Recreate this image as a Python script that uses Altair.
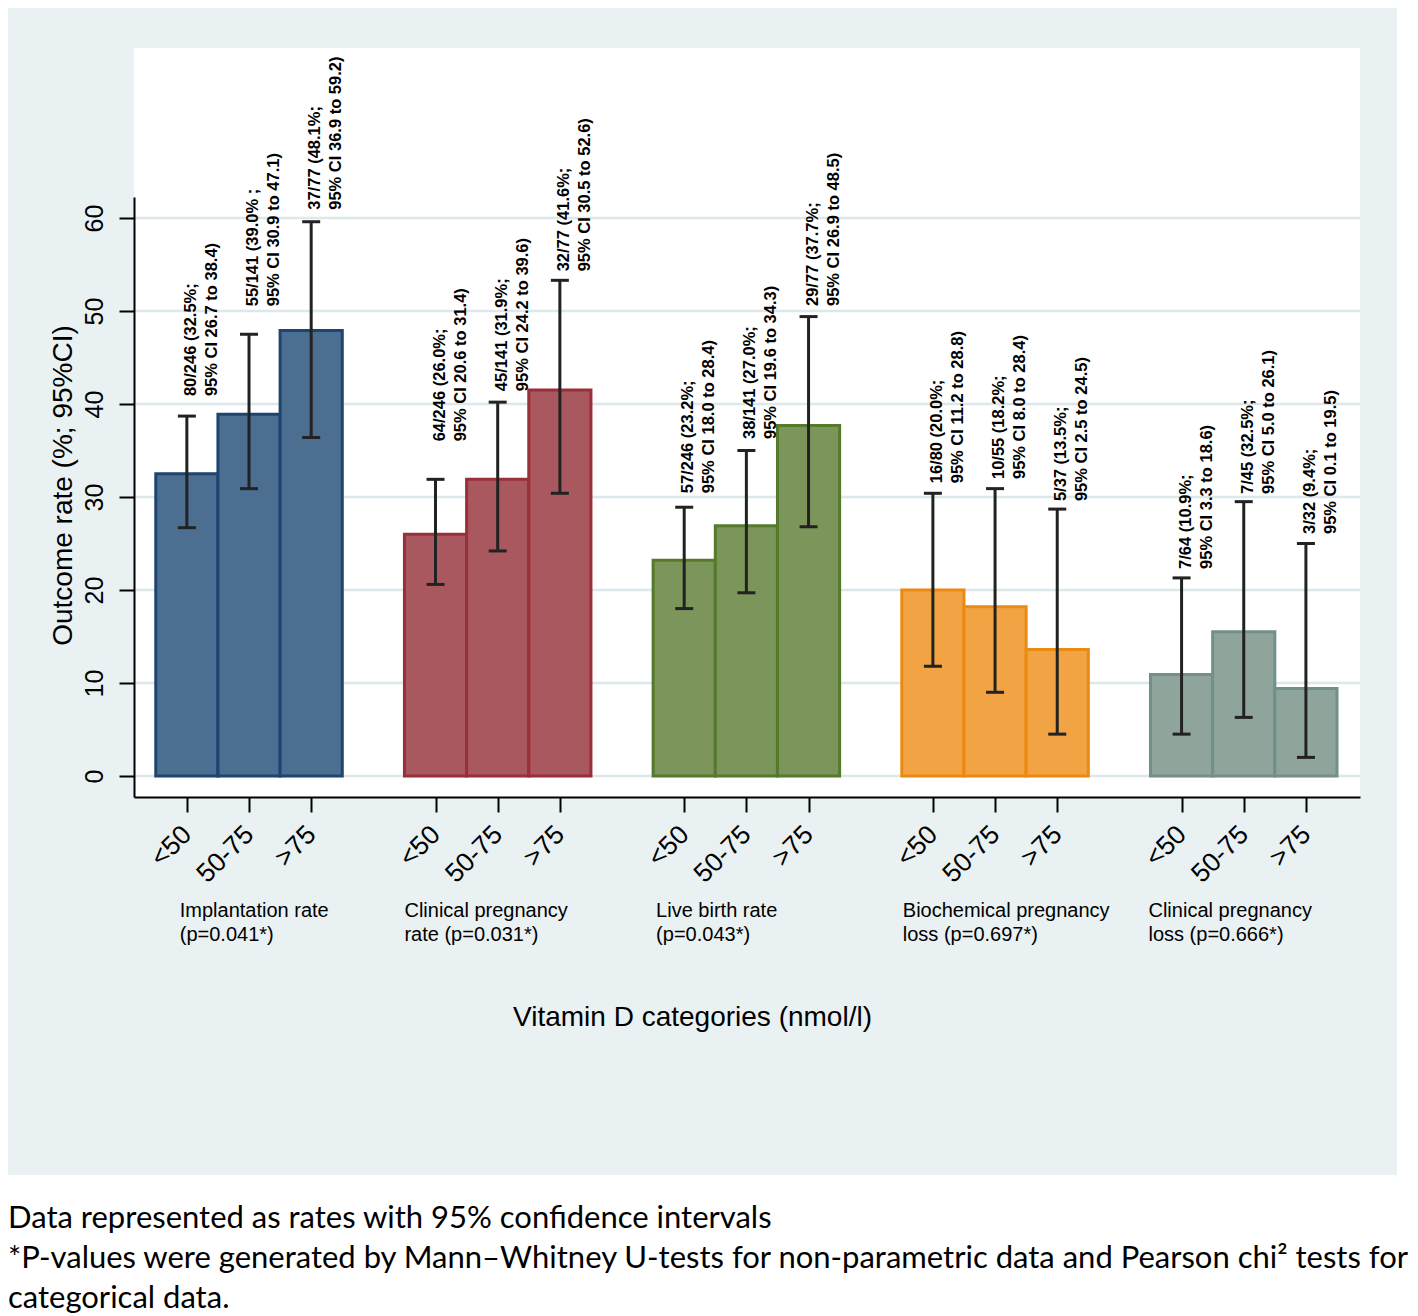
import altair as alt
import pandas as pd

# ---------------- data ----------------
outcome_groups = ["Implantation rate", "Clinical pregnancy rate", "Live birth rate",
                  "Biochemical pregnancy loss", "Clinical pregnancy loss"]
group_captions = [
    "Implantation rate\n(p=0.041*)",
    "Clinical pregnancy\nrate (p=0.031*)",
    "Live birth rate\n(p=0.043*)",
    "Biochemical pregnancy\nloss (p=0.697*)",
    "Clinical pregnancy\nloss (p=0.666*)",
]
vitd_categories = ["<50", "50-75", ">75"]

rate = [32.5, 38.9, 47.9, 26.0, 31.9, 41.5, 23.2, 26.9, 37.7, 20.0, 18.2, 13.6, 10.9, 15.5, 9.4]
ci_low = [26.7, 30.9, 36.4, 20.6, 24.2, 30.4, 18.0, 19.7, 26.8, 11.8, 9.0, 4.5, 4.5, 6.3, 2.0]
ci_high = [38.7, 47.5, 59.6, 31.9, 40.2, 53.3, 28.9, 35.0, 49.4, 30.4, 30.9, 28.7, 21.3, 29.5, 25.0]

label_line1 = ["80/246 (32.5%;", "55/141 (39.0% ;", "37/77 (48.1%;",
               "64/246 (26.0%;", "45/141 (31.9%;", "32/77 (41.6%;",
               "57/246 (23.2%;", "38/141 (27.0%;", "29/77 (37.7%;",
               "16/80 (20.0%;", "10/55 (18.2%;", "5/37 (13.5%;",
               "7/64 (10.9%;", "7/45 (32.5%;", "3/32 (9.4%;"]
label_line2 = ["95% CI 26.7 to 38.4)", "95% CI 30.9 to 47.1)", "95% CI 36.9 to 59.2)",
               "95% CI 20.6 to 31.4)", "95% CI 24.2 to 39.6)", "95% CI 30.5 to 52.6)",
               "95% CI 18.0 to 28.4)", "95% CI 19.6 to 34.3)", "95% CI 26.9 to 48.5)",
               "95% CI 11.2 to 28.8)", "95% CI 8.0 to 28.4)", "95% CI 2.5 to 24.5)",
               "95% CI 3.3 to 18.6)", "95% CI 5.0 to 26.1)", "95% CI 0.1 to 19.5)"]

y_ticks = [0, 10, 20, 30, 40, 50, 60]

footnote = [
    "Data represented as rates with 95% confidence intervals",
    "*P-values were generated by Mann\u2013Whitney U-tests for non-parametric data and Pearson chi\u00b2 tests for",
    "categorical data.",
]

# ---------------- style ----------------
fills = ["#4B6E91", "#A9585F", "#7B955A", "#F2A444", "#8FA59C"]
strokes = ["#1D4570", "#9A2F37", "#557A2C", "#EB8A12", "#72908A"]
label_gap_px = [20, 28, 12, 38, 11, 9, 14, 11.5, 10.6, 10, 9.6, 8, 9, 7.7, 9.5]
caption_dx_px = [24, 0, 3, 1, -2]
FONT = "Liberation Sans, Arial, Helvetica, sans-serif"
REGION = "#E9F1F2"

W, H = 1226, 600
X_DOM = [-0.85, 18.87]
Y_DOM = [-2.26, 62.26]
ppu_x = W / (X_DOM[1] - X_DOM[0])
ppu_y = H / (Y_DOM[1] - Y_DOM[0])
cap_half = 9 / ppu_x

rows = []
for g in range(len(outcome_groups)):
    for c in range(len(vitd_categories)):
        i = g * 3 + c
        pos = g * 4 + c
        rows.append(dict(
            group=outcome_groups[g], pos=pos, x0=pos - 0.5, x1=pos + 0.5, base=0.0,
            rate=rate[i], lo=ci_low[i], hi=ci_high[i],
            cap0=pos - cap_half, cap1=pos + cap_half,
            label=label_line1[i] + "\n" + label_line2[i],
            label_y=ci_high[i] + label_gap_px[i] / ppu_y,
        ))
df = pd.DataFrame(rows)

cap_df = pd.DataFrame([
    dict(caption=group_captions[g], gx=g * 4 - 0.5 + caption_dx_px[g] / ppu_x)
    for g in range(len(outcome_groups))
])
grid_df = pd.DataFrame({"v": y_ticks})
one = pd.DataFrame({"k": [0]})

x_ticks = [g * 4 + c for g in range(5) for c in range(3)]
label_expr = "[" + ",".join("'%s'" % s for s in vitd_categories) + "][datum.value % 4]"

xs = alt.Scale(domain=X_DOM, nice=False, zero=False)
ys = alt.Scale(domain=Y_DOM, nice=False, zero=False)

x_axis = alt.Axis(
    values=x_ticks, labelExpr=label_expr, labelAngle=315, labelAlign="right",
    labelBaseline="middle", labelFont=FONT, labelFontSize=26.5, labelColor="black",
    labelPadding=18, labelOverlap=False, labelFlush=False, labelBound=False,
    tickSize=15, tickWidth=2, tickColor="black", domainColor="black", domainWidth=2,
    grid=False, title="Vitamin D categories (nmol/l)", titleFont=FONT, titleFontSize=28,
    titleFontWeight="normal", titleColor="black", titleX=558, titleY=220,
    titleAlign="center", titleBaseline="middle", zindex=1,
)
y_axis = alt.Axis(
    values=y_ticks, labelAngle=270, labelAlign="center", labelBaseline="bottom",
    labelFont=FONT, labelFontSize=25, labelColor="black", labelPadding=12,
    labelOverlap=False, labelFlush=False, labelBound=False,
    tickSize=15, tickWidth=2, tickColor="black", domainColor="black", domainWidth=2,
    grid=False, title="Outcome rate (%; 95%CI)", titleFont=FONT, titleFontSize=28,
    titleFontWeight="normal", titleColor="black", titleX=-71, titleY=288,
    titleAngle=270, titleAlign="center", titleBaseline="middle", zindex=1,
)


def X(field):
    return alt.X(field, type="quantitative", scale=xs, axis=x_axis)


def Y(field):
    return alt.Y(field, type="quantitative", scale=ys, axis=y_axis)


region_bg = alt.Chart(one).mark_rect(color=REGION).encode(
    x=alt.value(-126), x2=alt.value(1263), y=alt.value(-189), y2=alt.value(978))
plot_bg = alt.Chart(one).mark_rect(color="white").encode(
    x=alt.value(0), x2=alt.value(W), y=alt.value(-149), y2=alt.value(H))

grid = alt.Chart(grid_df).mark_rule(color="#DCE8EB", strokeWidth=2.5).encode(y=Y("v"))

bars = alt.Chart(df).mark_rect(strokeWidth=3).encode(
    x=X("x0"), x2="x1", y=Y("base"), y2="rate",
    fill=alt.Fill("group:N", scale=alt.Scale(domain=outcome_groups, range=fills), legend=None),
    stroke=alt.Stroke("group:N", scale=alt.Scale(domain=outcome_groups, range=strokes), legend=None),
)

err = alt.Chart(df).mark_rule(color="#222222", strokeWidth=3).encode(
    x=X("pos"), y=Y("lo"), y2="hi")
cap_lo = alt.Chart(df).mark_rule(color="#222222", strokeWidth=3).encode(
    x=X("cap0"), x2="cap1", y=Y("lo"))
cap_hi = alt.Chart(df).mark_rule(color="#222222", strokeWidth=3).encode(
    x=X("cap0"), x2="cap1", y=Y("hi"))

labels = alt.Chart(df).mark_text(
    angle=270, align="left", baseline="middle", font=FONT, fontWeight="bold",
    fontSize=16.5, lineHeight=21, dy=4, lineBreak="\n", color="black",
).encode(x=X("pos"), y=Y("label_y"), text="label:N")

captions = alt.Chart(cap_df).mark_text(
    align="left", baseline="top", font=FONT, fontSize=20, lineHeight=24,
    lineBreak="\n", color="black",
).encode(x=X("gx"), y=alt.value(704), text="caption:N")

chart = alt.layer(
    region_bg, plot_bg, grid, bars, err, cap_lo, cap_hi, labels, captions
).properties(
    width=W, height=H,
    padding={"left": 126, "top": 189, "right": 50, "bottom": 517},
    autosize=alt.AutoSizeParams(type="none"),
    background="white",
    title=alt.TitleParams(
        text=footnote, orient="bottom", anchor="start", frame="bounds",
        font="Lato, Carlito, sans-serif", fontSize=31, fontWeight="normal",
        color="black", offset=29, lineHeight=40, baseline="top",
    ),
).configure_view(stroke=None)

chart.save("out.html", embed_options={"renderer": "svg", "actions": False})
